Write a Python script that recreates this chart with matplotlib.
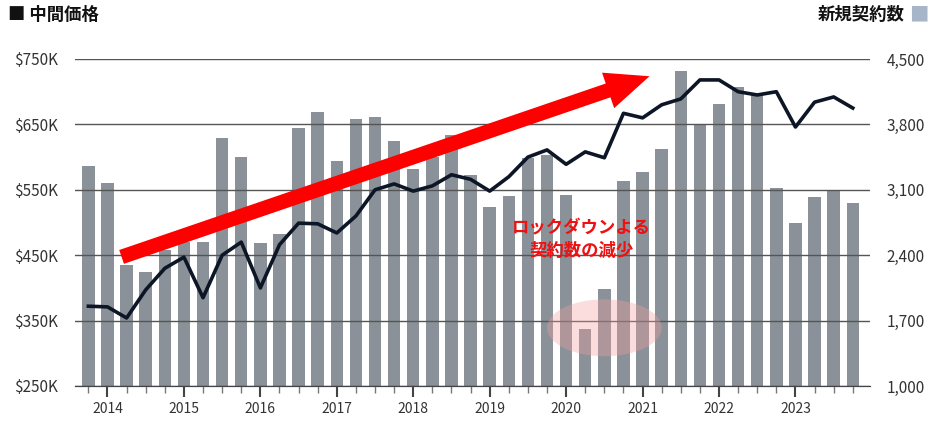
import matplotlib
matplotlib.use("Agg")
import matplotlib.pyplot as plt
from matplotlib.patches import Ellipse

plt.rcParams['font.family'] = ['Noto Sans CJK JP', 'DejaVu Sans']

quarters = [f"{y}Q{q}" for y in range(2013, 2024) for q in range(1, 5)][3:]
contracts = [3355, 3172, 2295, 2220, 2455, 2541, 2541, 3654, 3450, 2530, 2626,
             3761, 3932, 3408, 3857, 3878, 3622, 3322, 3450, 3686, 3258,
             2915, 3033, 3440, 3472, 3044, 1610, 2038, 3193, 3290, 3536,
             4371, 3793, 4017, 4199, 4113, 3119, 2744, 3022, 3097, 2958]
median_price = [372, 371, 354, 397, 430, 447, 385, 450, 470, 400, 466,
                499, 498, 484, 510, 550, 559, 548, 556, 573, 566,
                548, 570, 600, 611, 589, 608, 599, 667, 660, 680,
                689, 718, 718, 700, 695, 700, 646, 684, 692, 675]
years = list(range(2014, 2024))
left_ticks = [250, 350, 450, 550, 650, 750]
right_ticks = [1000, 1700, 2400, 3100, 3800, 4500]

x = list(range(len(quarters)))
fig = plt.figure(figsize=(9.35, 4.21), dpi=100)
ax2 = fig.add_axes([75/935, 1-386/421, 795/935, 327/421])
ax = ax2.twinx()
ax2.yaxis.tick_right(); ax.yaxis.tick_left()

ax2.bar(x, contracts, width=0.65, color='#8b9198', zorder=2)
ax2.set_ylim(1000, 4500)
ax2.set_yticks(right_ticks)
ax2.set_yticklabels([f"{v:,}" for v in right_ticks])
for v in left_ticks:
    pass
ax.set_ylim(250, 750)
ax.set_yticks(left_ticks)
ax.set_yticklabels([f"${v}K" for v in left_ticks])
ax.yaxis.set_label_position('left')
ax.grid(axis='y', color='#555555', lw=1.0, zorder=1)
ax2.set_zorder(0); ax.set_zorder(1); ax.patch.set_visible(False)
ax.plot(x, median_price, color='#0d1626', lw=2.6, zorder=4)

ax2.set_xlim(-0.7, 40.9)
major = [quarters.index(f"{y}Q1") for y in years]
ax2.set_xticks(major)
ax2.set_xticklabels([str(y) for y in years])
ax2.set_xticks(x, minor=True)
ax2.tick_params(axis='x', which='major', length=8, width=1.5, color='#444444', labelsize=10, labelcolor='#333333')
ax2.tick_params(axis='x', which='minor', length=5, width=1, color='#777777')
ax2.tick_params(axis='y', length=0, labelsize=11, labelcolor='#333333', pad=12)
ax.tick_params(axis='y', length=0, labelsize=11, labelcolor='#333333', pad=12)
ax.tick_params(axis='x', bottom=False, labelbottom=False)
for a in (ax, ax2):
    for s in ['top', 'left', 'right']:
        a.spines[s].set_visible(False)
    a.spines['bottom'].set_color('#444444')

# lockdown highlight
ax.add_patch(Ellipse((27.0, 339), 6.0, 87, color='#f4a0a0', alpha=0.35, lw=0, zorder=5))
ax.text(25.8, 474, "ロックダウンよる\n契約数の減少", color='#ee1111', fontsize=12.5,
        fontweight='bold', ha='center', va='center', linespacing=1.3, zorder=6)
ax.annotate('', xy=(29.5, 725), xytext=(1.6, 446),
            arrowprops=dict(arrowstyle='simple,head_length=2.1,head_width=1.8,tail_width=0.7',
                            mutation_scale=15, color='#ff0000', lw=0), zorder=6)

fig.text(8/935, 1-15/421, "■ 中間価格", fontsize=12.5, fontweight='bold', color='#111111', va='center')
fig.text(905/935, 1-15/421, "新規契約数", fontsize=12.5, fontweight='bold', color='#111111', va='center', ha='right')
fig.text(909/935, 1-15/421, "■", fontsize=14, color='#a7b5c8', va='center')

fig.savefig("out.png", dpi=100)
